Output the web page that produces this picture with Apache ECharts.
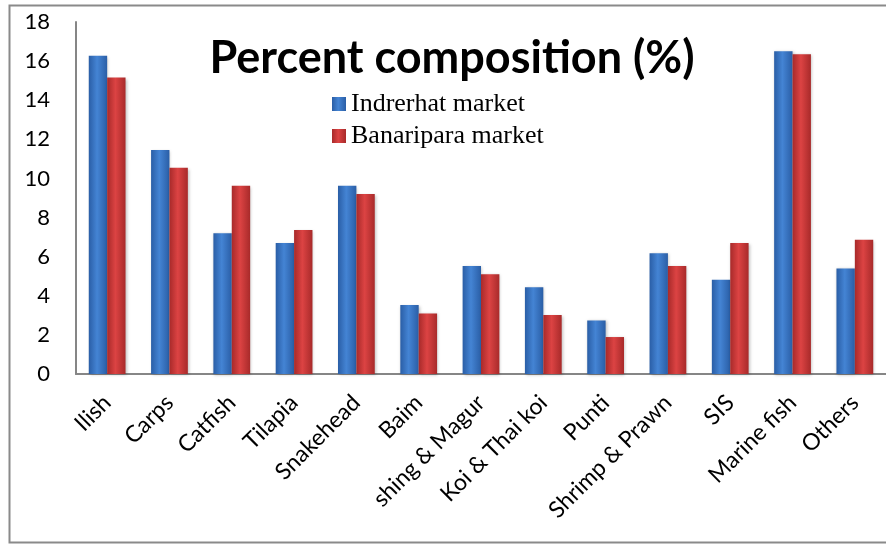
<!DOCTYPE html>
<html><head><meta charset="utf-8">
<script src="https://cdn.jsdelivr.net/npm/echarts@6/dist/echarts.min.js"></script>
<style>html,body{margin:0;padding:0;background:#fff}#c{width:886px;height:544px}</style>
</head><body><div id="c"></div>
<script>
const categories = ["Ilish","Carps","Catfish","Tilapia","Snakehead","Baim","shing & Magur","Koi & Thai koi","Punti","Shrimp & Prawn","SIS","Marine fish","Others"];
const indrerhat = [16.27,11.46,7.2,6.7,9.63,3.53,5.52,4.43,2.74,6.17,4.82,16.5,5.4];
const banaripara = [15.16,10.55,9.63,7.37,9.21,3.1,5.1,3.02,1.89,5.52,6.7,16.35,6.87];
const yTicks = {min:0,max:18,interval:2};

const chart = echarts.init(document.getElementById('c'));
function grad(edge, mid){
  return new echarts.graphic.LinearGradient(0,0,1,0,[
    {offset:0,color:edge},{offset:0.45,color:mid},{offset:1,color:edge}]);
}
chart.setOption({
  animation:false,
  title:{text:'Percent composition (%)',left:447,top:31,textAlign:'center',
    textStyle:{fontFamily:'Lato',fontWeight:'bold',fontSize:45,color:'#000'}},
  legend:{orient:'vertical',left:327,top:86,itemWidth:14,itemHeight:14,itemGap:6,
    icon:'rect',
    textStyle:{fontFamily:'Liberation Serif',fontSize:26,color:'#000'},
    data:['Indrerhat market','Banaripara market']},
  graphic:[{type:'rect',shape:{x:9.5,y:5.5,width:900,height:537},
    style:{fill:'none',stroke:'#8a8a8a',lineWidth:2},silent:true,z:-1}],
  grid:{left:76,top:22,width:815,height:352,containLabel:false},
  xAxis:{type:'category',data:categories,
    axisLine:{lineStyle:{color:'#868686',width:2}},
    axisTick:{show:false},
    axisLabel:{rotate:45,interval:0,margin:25,fontFamily:'Lato',fontSize:23,color:'#000'}},
  yAxis:{type:'value',min:yTicks.min,max:yTicks.max,interval:yTicks.interval,
    splitLine:{show:false},
    axisLine:{show:true,lineStyle:{color:'#868686',width:2}},
    axisTick:{show:false},
    axisLabel:{margin:26,fontFamily:'Lato',fontSize:22,color:'#000'}},
  series:[
    {name:'Indrerhat market',type:'bar',data:indrerhat,barGap:'0%',barCategoryGap:'41%',
      itemStyle:{color:grad('#2a5ea6','#4484d4'),shadowColor:'rgba(0,0,0,0.25)',shadowBlur:3,shadowOffsetX:1,shadowOffsetY:1}},
    {name:'Banaripara market',type:'bar',data:banaripara,
      itemStyle:{color:grad('#a82a2a','#dc4343'),shadowColor:'rgba(0,0,0,0.25)',shadowBlur:3,shadowOffsetX:1,shadowOffsetY:1}}
  ]
});
</script></body></html>
